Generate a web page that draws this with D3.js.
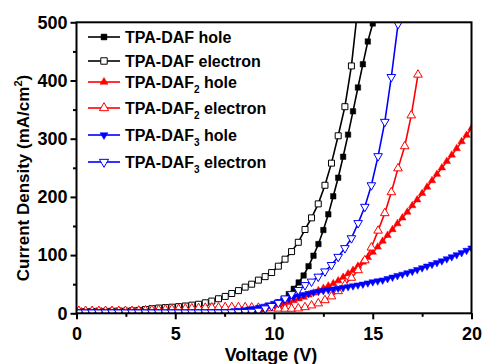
<!DOCTYPE html>
<html>
<head>
<meta charset="utf-8">
<script src="https://cdn.jsdelivr.net/npm/d3@7"></script>
<style>
  body { margin: 0; background: #fff; }
  svg { display: block; font-family: Arial, "Liberation Sans", sans-serif; font-weight: bold; }
</style>
</head>
<body>
<svg id="chart" width="483" height="364"></svg>
<script>
// voltages (V); hole devices every 0.25 V, electron devices every ~0.34 V
var holeVoltage = [0,0.25,0.5,0.75,1,1.25,1.5,1.75,2,2.25,2.5,2.75,3,3.25,3.5,3.75,4,4.25,4.5,4.75,
    5,5.25,5.5,5.75,6,6.25,6.5,6.75,7,7.25,7.5,7.75,8,8.25,8.5,8.75,9,9.25,9.5,9.75,
    10,10.25,10.5,10.75,11,11.25,11.5,11.75,12,12.25,12.5,12.75,13,13.25,13.5,13.75,14,14.25,14.5,14.75,
    15,15.25,15.5,15.75,16,16.25,16.5,16.75,17,17.25,17.5,17.75,18,18.25,18.5,18.75,19,19.25,19.5,19.75,20];
var electronVoltage = [0.12,0.46,0.79,1.13,1.47,1.8,2.14,2.48,2.81,3.15,3.49,3.82,4.16,4.5,4.83,5.17,5.51,5.84,6.18,6.52,
    6.85,7.19,7.53,7.86,8.2,8.54,8.87,9.21,9.55,9.88,10.22,10.56,10.89,11.23,11.57,11.9,12.24,12.58,12.91,13.25,
    13.59,13.92,14.26,14.6,14.93,15.27,15.61,15.94,16.28,16.62,16.95,17.29];

// current density (mA/cm2)
var dafHole = [1,1,1,1,1,1,1,1,1,1,1,1,1,1,1,1,1,1,1,1,1,1,1,1,1.5,1.5,1.5,1.5,1.5,1.5,1.5,1.5,
    2,2.5,3,4,5,6.5,8,10.5,14,18.5,25,33,42,53,65,81,99,119,143,170,201,233,269,307,347,388,428,467,498];
var dafElectron = [3,3,3.2,3.3,3.4,3.5,3.6,3.8,4.2,5,6.5,8,9,9.8,10.5,11.4,12.5,14,15.5,18,
    21,25,29,34,39,45,50,57,63,70,81,93,106,122,144,164,188,220,258,305,355,425,530];
var daf2Hole = [3,3,3,3,3,3,3,3,3,3,3,3,3,3,3,3,3,3,3,3,3,3,3,3,3,3,3,3,3,3,3,3,
    3.5,4,4.5,5,5.5,6.5,7.5,9,11,13.5,16,19,22,25,28,31.5,35,39,43,47,51,56,62,68,74,81,88,96,105,114,
    124,134,144,154,164,174,185,195,206,217,228,239,250,261,272,283,295,306,318];
var daf2Electron = [4,4,4,4,4,4,4,4,4,4.5,5,5.5,6,6.5,7,7.5,8,8.5,9,9.5,
    10,10,10.5,10.5,10.5,10.5,10,9.5,9,8.5,8,7.8,7.8,8.3,10.5,13.5,17,22.5,29,38,
    49,61,74,91,113,142,172,208,249,287,340,410];
var daf3Hole = [2.5,2.5,2.5,2.5,2.5,2.5,2.5,2.5,2.5,2.5,2.5,2.5,2.5,2.5,2.5,2.5,2.5,2.5,2.5,2.5,2.5,2.5,2.5,2.5,2.5,2.5,2.5,2.5,2.5,2.5,2.5,2.5,
    4.5,5,6,7,8,10,12,14.5,17,20,23,25.5,28,30,32,34,36,37.5,39,40,41.5,43,44,45.5,47,48.5,50,52,54,55.5,
    57,59.5,62,64.5,67,69.5,72,75,78,81,84,87,90,93.5,97,100.5,104,108,112];
var daf3Electron = [1.5,1.5,1.5,1.5,1.5,1.5,1.5,1.5,1.5,1.5,1.5,1.5,1.5,1.5,1.5,1.5,1.5,1.5,1.5,1.5,
    1.5,1.5,1.6,1.8,2,2.3,2.8,4.5,8.5,12.5,18,25.5,33,40,48.5,54.5,63,72,83,97,
    112,129,155,183,220,270,329,406,497];

var xTicks = [0, 5, 10, 15, 20];
var xMinor = [2.5, 7.5, 12.5, 17.5];
var yTicks = [0, 100, 200, 300, 400, 500];
var yMinor = [50, 150, 250, 350, 450];

var seriesList = [
    {name: "TPA-DAF", sub: "", kind: "hole", v: holeVoltage, j: dafHole, color: "#000", shape: "square", filled: true},
    {name: "TPA-DAF", sub: "", kind: "electron", v: electronVoltage, j: dafElectron, color: "#000", shape: "square", filled: false},
    {name: "TPA-DAF", sub: "2", kind: "hole", v: holeVoltage, j: daf2Hole, color: "#ff0000", shape: "up", filled: true},
    {name: "TPA-DAF", sub: "2", kind: "electron", v: electronVoltage, j: daf2Electron, color: "#ff0000", shape: "up", filled: false},
    {name: "TPA-DAF", sub: "3", kind: "hole", v: holeVoltage, j: daf3Hole, color: "#0000ff", shape: "down", filled: true},
    {name: "TPA-DAF", sub: "3", kind: "electron", v: electronVoltage, j: daf3Electron, color: "#0000ff", shape: "down", filled: false}
];

var svg = d3.select("#chart");
var plotLeft = 76.5, plotRight = 471.5, plotTop = 22.3, plotBottom = 313.3;

var x = d3.scaleLinear().domain([0, 20]).range([plotLeft, plotRight]);
var y = d3.scaleLinear().domain([0, 500]).range([plotBottom, plotTop]);

svg.append("clipPath").attr("id", "plotClip")
    .append("rect").attr("x", plotLeft).attr("y", plotTop)
    .attr("width", plotRight - plotLeft).attr("height", plotBottom - plotTop);

function symbolPath(s, big) {
    var type = s.shape == "square" ? d3.symbolSquare : d3.symbolTriangle;
    var size;
    if (s.shape == "square") size = s.filled ? 30 : 36;
    else size = s.filled ? 24 : 32;
    if (big) size *= 1.15;
    return d3.symbol().type(type).size(size)();
}
function symbolTransform(s, px, py) {
    return "translate(" + px + "," + py + ")" + (s.shape == "down" ? " rotate(180)" : "");
}

var plot = svg.append("g").attr("clip-path", "url(#plotClip)");
var line = d3.line().x(function(d){ return x(d[0]); }).y(function(d){ return y(d[1]); });

seriesList.forEach(function(s){
    var pts = s.j.map(function(val, i){ return [s.v[i], val]; });
    var g = plot.append("g");
    g.append("path").datum(pts)
        .attr("d", line)
        .attr("fill", "none")
        .attr("stroke", s.color)
        .attr("stroke-width", 1.6);
    g.selectAll("path.m").data(pts).enter().append("path")
        .attr("class", "m")
        .attr("d", symbolPath(s, false))
        .attr("transform", function(d){ return symbolTransform(s, x(d[0]), y(d[1])); })
        .attr("fill", s.filled ? s.color : "#fff")
        .attr("stroke", s.color)
        .attr("stroke-width", s.filled ? 0.5 : 1);
});

// axes
function styleAxis(g) {
    g.select(".domain").remove();
    g.selectAll(".tick line").attr("stroke", "#000").attr("stroke-width", 2);
    g.selectAll(".tick text").attr("font-size", 18).attr("font-weight", "bold")
        .attr("font-family", "Arial, 'Liberation Sans', sans-serif").attr("fill", "#000");
}
svg.append("g").attr("transform", "translate(0," + plotBottom + ")")
    .call(d3.axisBottom(x).tickValues(xTicks).tickSize(6).tickPadding(8).tickFormat(d3.format("d")))
    .call(styleAxis);
svg.append("g").attr("transform", "translate(0," + plotBottom + ")")
    .call(d3.axisBottom(x).tickValues(xMinor).tickSize(3.5).tickFormat(""))
    .call(styleAxis);
svg.append("g").attr("transform", "translate(" + plotLeft + ",0)")
    .call(d3.axisLeft(y).tickValues(yTicks).tickSize(6).tickPadding(3).tickFormat(d3.format("d")))
    .call(styleAxis);
svg.append("g").attr("transform", "translate(" + plotLeft + ",0)")
    .call(d3.axisLeft(y).tickValues(yMinor).tickSize(3.5).tickFormat(""))
    .call(styleAxis);

svg.append("rect")
    .attr("x", plotLeft).attr("y", plotTop)
    .attr("width", plotRight - plotLeft).attr("height", plotBottom - plotTop)
    .attr("fill", "none").attr("stroke", "#000").attr("stroke-width", 2);

// axis titles
svg.append("text")
    .attr("x", (plotLeft + plotRight) / 2 - 3).attr("y", 361)
    .attr("text-anchor", "middle").attr("font-size", 18)
    .text("Voltage (V)");

var yt = svg.append("text")
    .attr("transform", "translate(29,178) rotate(-90)")
    .attr("text-anchor", "middle").attr("font-size", 17);
yt.append("tspan").text("Current Density (mA/cm");
yt.append("tspan").attr("font-size", 11).attr("dy", -7).text("2");
yt.append("tspan").attr("dy", 7).text(")");

// legend
var legendY = [37, 61, 82, 108, 135, 162];
var legend = svg.append("g");
seriesList.forEach(function(s, i){
    var ly = legendY[i];
    legend.append("line")
        .attr("x1", 88).attr("x2", 120).attr("y1", ly).attr("y2", ly)
        .attr("stroke", s.color).attr("stroke-width", 1.6);
    legend.append("path")
        .attr("d", symbolPath(s, true))
        .attr("transform", symbolTransform(s, 104, ly))
        .attr("fill", s.filled ? s.color : "#fff")
        .attr("stroke", s.color)
        .attr("stroke-width", s.filled ? 0.5 : 1);
    var t = legend.append("text")
        .attr("x", 125).attr("y", ly + 6)
        .attr("font-size", 16);
    t.append("tspan").text(s.name);
    if (s.sub) {
        t.append("tspan").attr("font-size", 10).attr("dy", 5).text(s.sub);
        t.append("tspan").attr("dy", -5).text(" " + s.kind);
    } else {
        t.append("tspan").text(" " + s.kind);
    }
});
</script>
</body>
</html>
